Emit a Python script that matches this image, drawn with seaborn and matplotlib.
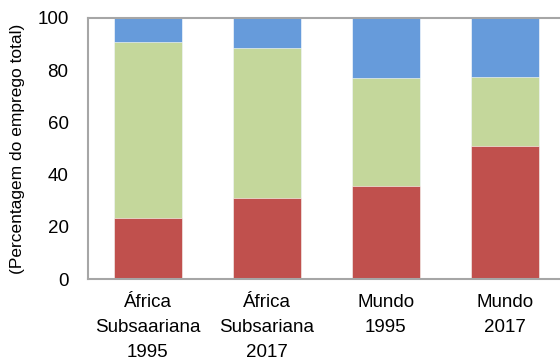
import matplotlib
matplotlib.use("Agg")
import matplotlib.pyplot as plt
import seaborn as sns
import pandas as pd

categories = ["África\nSubsaariana\n1995", "África\nSubsariana\n2017", "Mundo\n1995", "Mundo\n2017"]
servicos = [23.5, 31.1, 35.7, 51.0]
agricultura = [67.2, 57.5, 41.3, 26.4]
industria = [9.3, 11.4, 23.0, 22.6]
yticks = [0, 20, 40, 60, 80, 100]
ylabel = "(Percentagem do emprego total)"

colors = {"servicos": "#C0504D", "agricultura": "#C4D79B", "industria": "#669BDB"}

sns.set_theme(style="white")
plt.rcParams["font.family"] = ["Liberation Sans", "DejaVu Sans"]
plt.rcParams["text.color"] = "black"

# cumulative tops for the stacked layers
df = pd.DataFrame({
    "cat": categories,
    "servicos": servicos,
    "agricultura": [s + a for s, a in zip(servicos, agricultura)],
    "industria": [s + a + i for s, a, i in zip(servicos, agricultura, industria)],
})

fig = plt.figure(figsize=(5.6, 3.62), dpi=100)
ax = fig.add_axes([88 / 560, 1 - 279 / 362, (564.7 - 88) / 560, (279 - 18) / 362])

for layer in ["industria", "agricultura", "servicos"]:
    sns.barplot(data=df, x="cat", y=layer, color=colors[layer], width=0.57,
                saturation=1, edgecolor="white", linewidth=0.4, ax=ax)

ax.set_xlim(-0.5, 3.5)
ax.set_ylim(0, 100)
ax.set_yticks(yticks)
ax.set_yticklabels([str(v) for v in yticks])
ax.set_xlabel("")
ax.set_ylabel(ylabel, fontsize=12.5, color="black")
ax.yaxis.set_label_coords(-63 / 476.7, 0.5)
ax.tick_params(axis="y", length=0, pad=14, labelsize=13.5, labelcolor="black")
ax.tick_params(axis="x", length=0, pad=11, labelsize=13.5, labelcolor="black")
for lbl in ax.get_xticklabels():
    lbl.set_linespacing(1.6)

for side in ["left", "bottom", "top", "right"]:
    ax.spines[side].set_color("#A6A6A6")
    ax.spines[side].set_linewidth(1.5)
ax.spines["right"].set_visible(False)

fig.savefig("out.png", dpi=100)
